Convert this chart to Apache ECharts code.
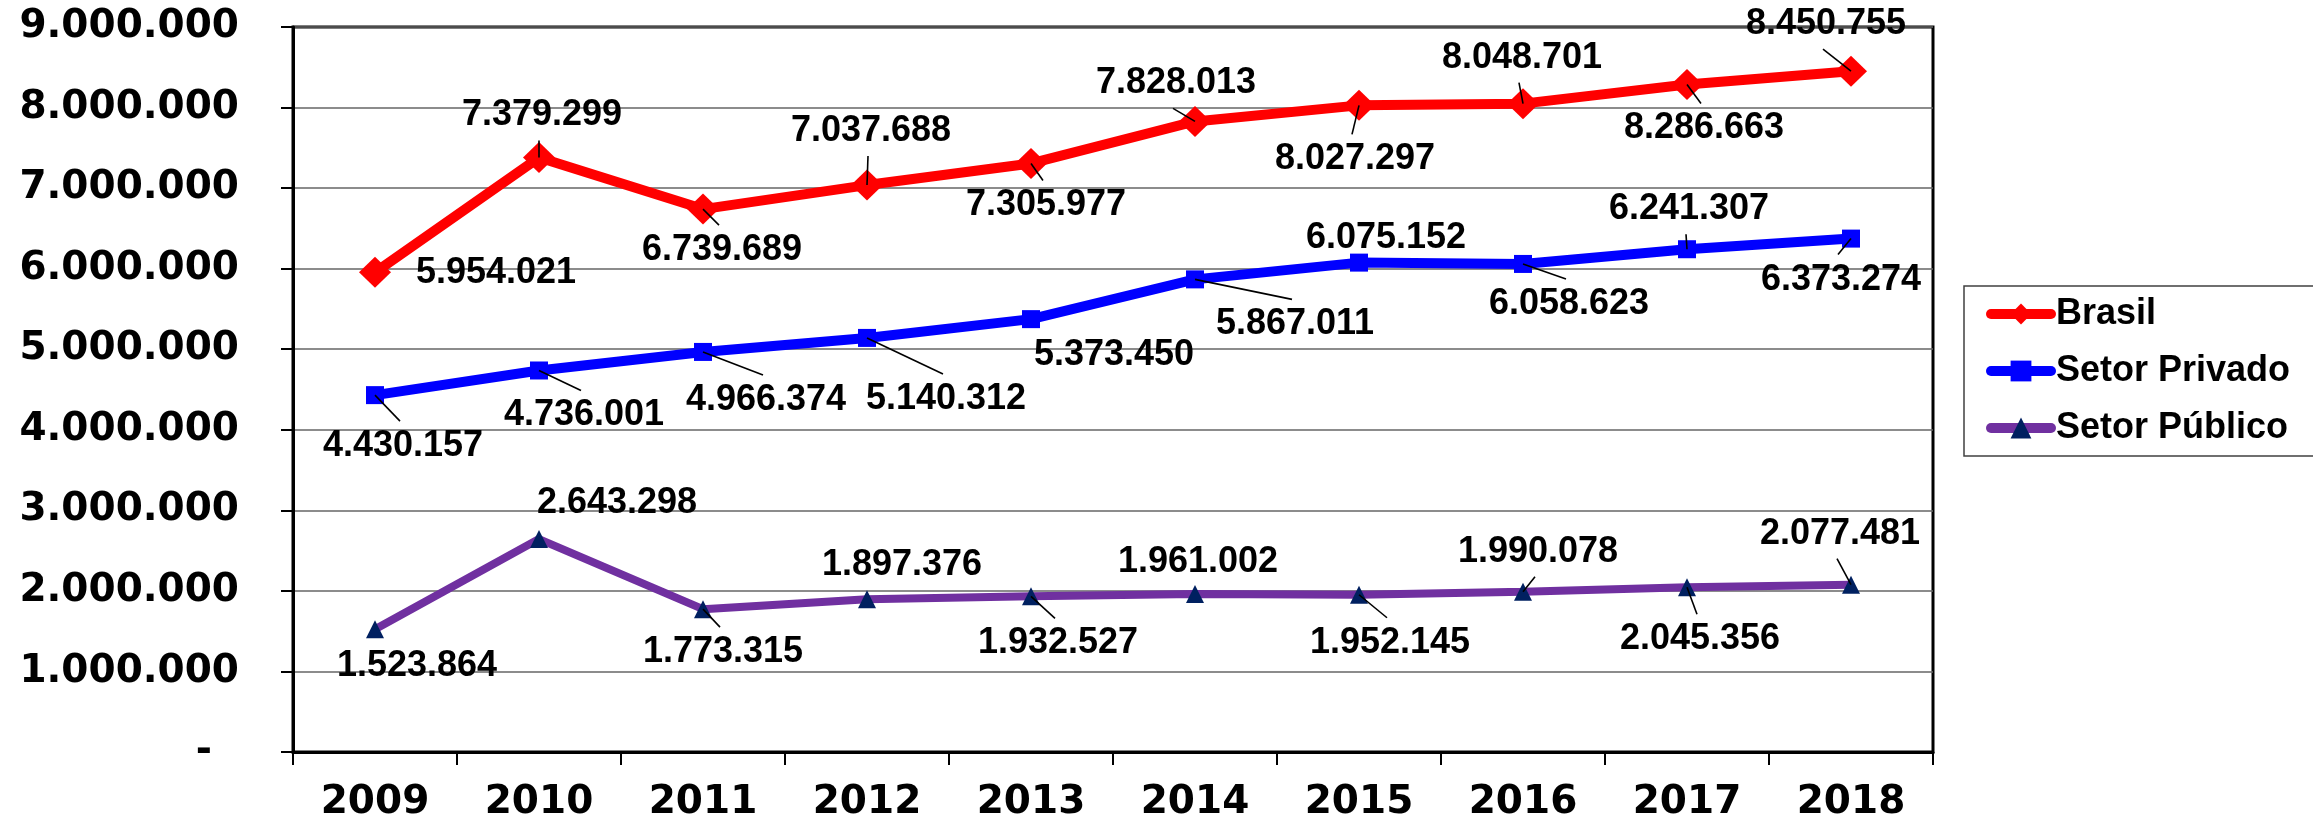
<!DOCTYPE html>
<html>
<head>
<meta charset="utf-8">
<title>Brasil / Setor Privado / Setor Público</title>
<script src="https://cdn.jsdelivr.net/npm/echarts@6/dist/echarts.min.js"></script>
<style>
  html, body { margin: 0; padding: 0; background: #fff; }
  #chart { width: 2313px; height: 823px; }
</style>
</head>
<body>
<div id="chart"></div>
<script>
// dados
const anos = ["2009", "2010", "2011", "2012", "2013", "2014", "2015", "2016", "2017", "2018"];
const brasil = [5954021, 7379299, 6739689, 7037688, 7305977, 7828013, 8027297, 8048701, 8286663, 8450755];
const setorPrivado = [4430157, 4736001, 4966374, 5140312, 5373450, 5867011, 6075152, 6058623, 6241307, 6373274];
const setorPublico = [1523864, 2643298, 1773315, 1897376, 1932527, 1961002, 1952145, 1990078, 2045356, 2077481];

// deslocamento dos rótulos em relação ao ponto (px) e linhas de chamada visíveis
const brasilShift = [[121, 1], [3, -42], [19, 41], [4, -54], [15, 42], [-19, -38], [-4, 54], [-1, -46], [17, 44], [-25, -47]];
const privadoShift = [[28, 51], [45, 45], [63, 48], [79, 61], [83, 36], [100, 45], [27, -25], [46, 40], [2, -40], [-10, 41]];
const publicoShift = [[42, 37], [78, -36], [20, 43], [35, -34], [27, 47], [3, -32], [31, 48], [15, -40], [13, 52], [-11, -51]];
const brasilLeader = [0, 1, 1, 1, 1, 1, 1, 1, 1, 1];
const privadoLeader = [1, 1, 1, 1, 0, 1, 0, 1, 1, 1];
const publicoLeader = [0, 0, 1, 0, 1, 0, 1, 1, 1, 1];

function fmt(v) {
  if (v === 0) return "-  ";
  return String(Math.round(v)).replace(/\B(?=(\d{3})+(?!\d))/g, ".");
}

const labelFont = {
  show: true,
  position: "inside",
  color: "#000",
  fontFamily: "Liberation Sans, Arial, sans-serif",
  fontWeight: "bold",
  fontSize: 36,
  formatter: (p) => fmt(p.value),
};

function makeSeries(name, data, shift, color, lineWidth, symbol, symbolSize, symbolColor) {
  return {
    name: name,
    type: "line",
    data: data,
    symbol: symbol,
    symbolSize: symbolSize,
    lineStyle: { color: color, width: lineWidth },
    itemStyle: { color: symbolColor, borderWidth: 0 },
    label: labelFont,
    labelLayout: (params) => {
      const s = shift[params.dataIndex];
      return { dx: s[0], dy: s[1] };
    },
    z: 3,
  };
}

// linha de chamada: do centro do ponto até perto da borda do rótulo
function makeLeader(data, shift, flags) {
  return {
    type: "custom",
    data: data.map((v, i) => [i, v]),
    encode: { x: 0, y: 1 },
    silent: true,
    z: 5,
    renderItem: (params, api) => {
      const i = params.dataIndex;
      if (!flags[i]) return null;
      const p = api.coord([api.value(0), api.value(1)]);
      const s = shift[i];
      const ex = p[0] + s[0] - 3;
      const ey = p[1] + s[1] - Math.sign(s[1]) * 25;
      return {
        type: "line",
        shape: { x1: p[0], y1: p[1], x2: ex, y2: ey },
        style: { stroke: "#000", lineWidth: 1.6 },
      };
    },
  };
}

const chart = echarts.init(document.getElementById("chart"));
const option = {
  animation: false,
  backgroundColor: "#fff",
  grid: {
    left: 293,
    right: 380,
    top: 27,
    bottom: 71,
    show: true,
    borderColor: "#000",
    borderWidth: 3,
  },
  legend: {
    orient: "vertical",
    left: 1964,
    top: 286,
    padding: [10, 27, 10, 22],
    itemWidth: 60,
    itemHeight: 26,
    itemGap: 21,
    backgroundColor: "#fff",
    borderColor: "#404040",
    borderWidth: 1.5,
    borderRadius: 0,
    lineStyle: { width: 10, cap: "round" },
    textStyle: {
      color: "#000",
      fontFamily: "Liberation Sans, Arial, sans-serif",
      fontWeight: "bold",
      fontSize: 36,
      lineHeight: 36,
    },
    data: ["Brasil", "Setor Privado", "Setor Público"],
  },
  xAxis: {
    type: "category",
    data: anos,
    boundaryGap: true,
    axisLine: { lineStyle: { color: "#000", width: 3 } },
    axisTick: { show: true, length: 13, lineStyle: { color: "#000", width: 2 } },
    axisLabel: {
      margin: 31,
      color: "#000",
      fontFamily: "DejaVu Sans, Verdana, sans-serif",
      fontWeight: "bold",
      fontSize: 39,
    },
  },
  yAxis: {
    type: "value",
    min: 0,
    max: 9000000,
    interval: 1000000,
    axisLine: { show: true, lineStyle: { color: "#000", width: 3 } },
    axisTick: { show: true, length: 12, lineStyle: { color: "#000", width: 2 } },
    splitLine: { lineStyle: { color: "#666", width: 1.5 } },
    axisLabel: {
      margin: 54,
      color: "#000",
      fontFamily: "DejaVu Sans, Verdana, sans-serif",
      fontWeight: "bold",
      fontSize: 39,
      formatter: fmt,
    },
  },
  series: [
    makeSeries("Brasil", brasil, brasilShift, "#ff0000", 10, "diamond", [32, 31], "#ff0000"),
    makeSeries("Setor Privado", setorPrivado, privadoShift, "#0000ff", 10, "rect", 18, "#0000ff"),
    makeSeries("Setor Público", setorPublico, publicoShift, "#7030a0", 8, "triangle", 18, "#002060"),
    makeLeader(brasil, brasilShift, brasilLeader),
    makeLeader(setorPrivado, privadoShift, privadoLeader),
    makeLeader(setorPublico, publicoShift, publicoLeader),
  ],
};
chart.setOption(option);
</script>
</body>
</html>
